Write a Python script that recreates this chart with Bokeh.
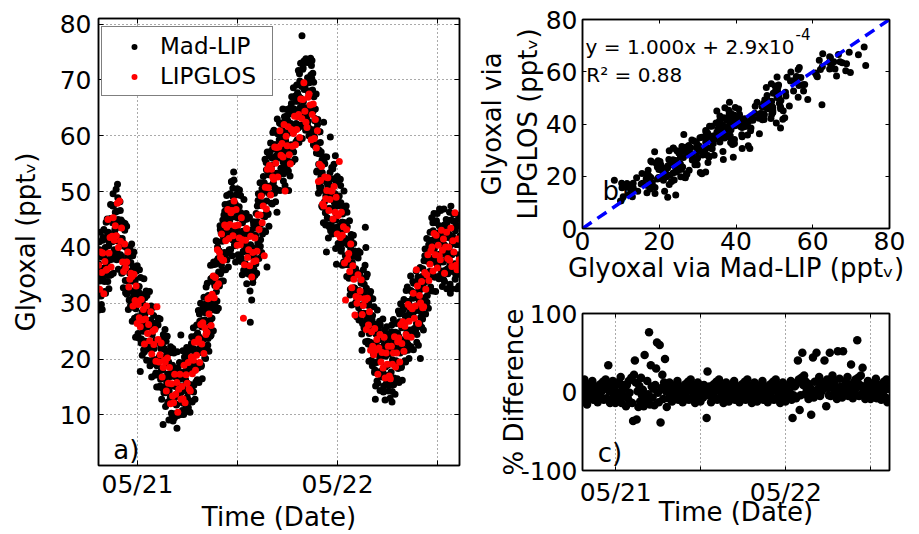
import numpy as np
from bokeh.plotting import figure
from bokeh.models import Range1d, FixedTicker, Legend, LegendItem, Label, LinearAxis
from bokeh.layouts import row, column
from bokeh.embed import file_html
from bokeh.resources import INLINE

FONT = "DejaVu Sans"

# ---------------- axes / ticks ----------------
time_ticks = [0, 24]                 # hours after 05/21 00:00 (labelled)
time_tick_labels = ["05/21", "05/22"]
time_minor_ticks = [12, 36]          # unlabelled ticks (noon)
glyoxal_ticks = [10, 20, 30, 40, 50, 60, 70, 80]
scatter_ticks = [0, 20, 40, 60, 80]
diff_ticks = [-100, 0, 100]
diff_tick_labels = ["-100", "0", "100"]

# ---------------- data ----------------
# Mad-LIP glyoxal (pptv), 2-min resolution starting 05/20 19:20,
# stored as two interleaved halves (even samples: 19:20, 19:24, ... ; odd samples: 19:22, 19:26, ...)
madlip_start_h = -4.0 - 40.0 / 60.0
madlip_step_min = 2.0
madlip_even_ppt = [
    37.1, 31.8, 39.6, 34.8, 36.3, 29.8, 39.3, 34.5, 41.8, 34.1, 38.3, 32.1, 40.0, 41.5, 36.6,
    37.0, 42.6, 35.0, 40.3, 42.4, 37.8, 35.0, 45.2, 42.0, 37.9, 44.4, 49.6, 47.5, 39.6, 42.9,
    46.3, 44.1, 41.2, 39.2, 51.3, 45.0, 41.7, 44.6, 38.1, 46.6, 40.4, 38.2, 43.8, 35.5, 40.9,
    36.1, 40.2, 43.1, 34.1, 37.1, 40.0, 31.6, 38.6, 34.1, 39.5, 30.6, 35.4, 32.2, 37.3, 30.3,
    35.1, 29.3, 36.6, 31.3, 32.3, 26.9, 34.3, 29.0, 35.8, 27.6, 31.3, 24.6, 32.0, 33.0, 27.6,
    17.8, 31.6, 23.6, 28.4, 30.0, 25.0, 21.7, 31.4, 27.8, 23.2, 29.2, 25.8, 31.4, 23.0, 25.9,
    28.6, 25.8, 22.2, 19.7, 28.6, 25.7, 22.5, 25.5, 19.2, 27.8, 21.9, 19.9, 25.6, 17.5, 23.1,
    18.8, 23.0, 26.1, 17.2, 20.4, 23.4, 15.2, 22.3, 18.0, 23.5, 14.8, 8.3, 16.6, 21.9, 15.0,
    19.8, 14.0, 21.4, 16.2, 17.3, 12.0, 19.5, 14.3, 21.2, 13.1, 16.9, 10.3, 17.8, 18.9, 8.9,
    13.0, 18.2, 10.2, 15.1, 16.8, 11.8, 7.6, 18.4, 14.8, 10.3, 16.4, 13.2, 19.1, 24.3, 14.1,
    17.6, 15.2, 12.1, 10.1, 19.5, 17.1, 14.4, 17.9, 12.0, 21.1, 15.7, 14.1, 20.3, 12.6, 18.6,
    14.4, 19.2, 22.8, 14.5, 18.2, 21.8, 14.1, 21.8, 18.0, 24.1, 15.9, 21.4, 18.9, 24.7, 18.4,
    24.1, 18.9, 26.8, 22.1, 23.7, 18.9, 26.9, 22.2, 29.6, 22.0, 26.3, 20.2, 28.3, 29.9, 25.2,
    25.5, 31.2, 23.7, 29.1, 31.3, 26.8, 24.1, 34.4, 31.3, 27.3, 33.9, 31.1, 37.4, 29.7, 33.2,
    37.0, 34.9, 32.1, 30.4, 40.1, 38.0, 35.6, 39.4, 33.8, 43.2, 38.1, 36.8, 43.3, 35.9, 42.1,
    38.1, 42.9, 46.5, 38.2, 41.9, 45.5, 37.8, 45.5, 41.7, 47.8, 39.6, 44.9, 42.2, 47.9, 51.8,
    46.8, 41.4, 49.1, 53.5, 45.5, 40.3, 47.8, 42.6, 49.5, 41.4, 45.3, 38.7, 46.2, 47.3, 42.0,
    41.2, 46.2, 38.1, 42.8, 44.4, 39.2, 35.9, 45.5, 41.8, 37.1, 43.1, 39.5, 45.1, 36.6, 39.4,
    42.0, 39.1, 35.6, 26.6, 42.2, 39.5, 36.5, 40.0, 34.5, 44.0, 39.0, 37.8, 44.4, 37.1, 43.5,
    39.7, 44.6, 48.4, 40.2, 44.1, 47.8, 40.2, 48.0, 44.3, 50.5, 42.4, 48.0, 45.6, 51.6, 45.5,
    51.1, 46.0, 53.9, 36.5, 50.9, 46.1, 54.2, 49.6, 57.1, 49.6, 54.0, 47.9, 56.0, 57.6, 52.9,
    52.9, 58.4, 50.7, 55.9, 57.9, 53.2, 46.3, 60.4, 57.1, 52.9, 59.3, 56.2, 62.2, 54.2, 57.4,
    61.0, 58.5, 55.3, 53.2, 62.5, 60.0, 57.2, 60.6, 54.6, 63.6, 58.2, 56.5, 50.2, 54.9, 60.9,
    57.4, 62.2, 65.8, 57.5, 61.2, 64.8, 57.1, 64.8, 61.0, 67.1, 58.9, 64.4, 61.9, 67.7, 61.4,
    67.1, 61.9, 69.8, 65.1, 66.7, 61.9, 77.9, 65.1, 72.2, 64.3, 68.3, 61.7, 69.2, 73.8, 64.8,
    65.0, 70.4, 62.6, 67.7, 69.5, 64.5, 61.2, 70.9, 72.6, 73.5, 68.2, 64.4, 69.6, 60.7, 62.7,
    64.8, 61.2, 56.9, 53.7, 62.0, 58.6, 54.9, 57.4, 50.6, 58.8, 52.6, 50.2, 55.6, 47.2, 52.5,
    62.4, 52.0, 55.0, 46.2, 49.3, 39.2, 44.1, 51.3, 46.9, 52.5, 43.7, 48.7, 59.8, 50.9, 44.0,
    50.7, 44.9, 52.3, 47.0, 48.1, 42.7, 56.4, 44.9, 37.0, 43.6, 47.4, 40.7, 48.2, 49.2, 43.9,
    52.2, 48.0, 39.8, 44.5, 46.0, 40.8, 37.4, 47.0, 43.2, 38.5, 44.4, 40.8, 46.3, 37.8, 40.5,
    41.3, 38.5, 34.9, 32.5, 41.4, 38.6, 35.4, 38.5, 32.1, 40.7, 34.8, 32.7, 38.4, 30.2, 35.7,
    30.9, 35.1, 38.1, 29.2, 32.3, 35.3, 27.0, 34.1, 29.7, 21.6, 26.4, 31.3, 28.2, 33.4, 26.5,
    43.6, 40.0, 32.7, 27.3, 28.2, 22.7, 30.0, 24.6, 31.3, 23.0, 26.6, 19.8, 27.0, 27.8, 22.2,
    21.3, 26.3, 18.1, 12.8, 24.5, 19.4, 16.1, 25.8, 22.2, 17.7, 23.8, 20.4, 26.1, 17.8, 20.7,
    23.6, 20.9, 17.5, 15.2, 24.3, 21.6, 18.6, 21.8, 15.7, 24.5, 18.9, 17.1, 23.1, 15.3, 21.1,
    16.9, 21.5, 24.9, 12.3, 19.9, 23.3, 15.4, 22.9, 18.9, 24.8, 16.4, 21.7, 19.1, 24.7, 18.3,
    24.1, 18.9, 26.7, 22.0, 23.5, 18.7, 26.6, 21.9, 29.2, 21.6, 25.8, 19.7, 27.7, 29.3, 24.5,
    24.8, 30.3, 22.6, 27.8, 29.8, 25.1, 22.2, 32.3, 28.9, 24.6, 30.9, 27.7, 33.6, 25.5, 28.6,
    31.9, 29.5, 26.4, 24.4, 33.8, 31.4, 28.7, 32.2, 26.3, 20.1, 30.0, 28.5, 34.8, 27.2, 33.3,
    29.9, 34.8, 38.5, 30.3, 34.1, 37.8, 30.2, 38.0, 34.3, 40.5, 32.4, 38.0, 35.5, 41.3, 35.0,
    40.5, 35.2, 43.0, 38.2, 39.7, 34.7, 42.5, 37.6, 44.8, 37.0, 41.1, 34.8, 42.6, 43.9, 38.8,
    38.5, 43.8, 35.8, 40.7, 42.4, 37.4, 34.2, 44.0, 40.4, 35.9, 42.0, 38.6, 44.4, 36.2, 39.2,
    42.5, 40.0, 36.8, 31.8, 47.4, 41.5, 38.7, 42.0, 35.9, 44.7, 39.0, 37.1, 43.0, 35.0, 40.7,
    36.1, 40.6, 43.9, 35.3, 38.7, 42.0,
]
madlip_odd_ppt = [
    28.8, 41.0, 34.0, 42.7, 31.3, 38.3, 28.9, 41.3, 35.7, 43.2, 33.9, 38.9, 31.8, 44.5, 35.3,
    45.1, 33.9, 42.7, 32.6, 40.9, 37.9, 47.7, 35.1, 45.2, 41.0, 47.4, 35.4, 44.9, 38.7, 43.3,
    39.5, 50.4, 37.8, 46.5, 48.9, 36.1, 43.6, 38.3, 48.2, 38.7, 44.9, 35.4, 41.6, 44.5, 32.8,
    43.8, 36.4, 44.3, 31.9, 36.9, 43.8, 32.8, 38.1, 28.9, 38.6, 33.9, 40.1, 29.6, 35.8, 40.6,
    26.8, 38.5, 31.0, 39.2, 27.3, 33.8, 23.9, 35.8, 29.7, 36.7, 26.9, 31.4, 23.8, 36.0, 26.3,
    34.6, 22.9, 31.3, 20.7, 28.5, 25.1, 34.4, 21.3, 31.0, 26.3, 32.2, 19.8, 28.8, 22.1, 26.3,
    21.8, 32.1, 18.8, 27.0, 29.5, 16.8, 24.4, 19.2, 29.3, 19.9, 26.4, 17.1, 23.4, 26.5, 15.0,
    26.5, 19.2, 27.3, 15.0, 20.2, 27.2, 16.4, 21.8, 12.8, 22.6, 18.1, 24.4, 14.0, 20.4, 25.3,
    11.5, 23.2, 15.8, 24.1, 12.3, 18.9, 9.1, 21.1, 15.1, 22.2, 12.5, 17.1, 9.6, 21.9, 12.3,
    21.1, 9.5, 17.9, 9.8, 15.3, 11.9, 21.3, 9.9, 18.0, 13.4, 19.4, 10.4, 16.5, 10.1, 14.5,
    10.8, 21.5, 10.2, 17.4, 20.4, 10.6, 16.3, 11.6, 22.1, 13.2, 20.2, 11.3, 18.1, 21.6, 10.5,
    22.1, 15.4, 24.0, 12.3, 18.0, 25.6, 15.3, 21.3, 12.8, 23.2, 19.2, 26.1, 16.3, 23.2, 28.7,
    15.8, 28.1, 21.2, 30.0, 18.7, 25.8, 16.5, 29.0, 23.5, 31.1, 21.9, 27.0, 20.1, 32.9, 23.9,
    33.6, 22.5, 31.4, 21.4, 29.8, 26.9, 36.8, 24.3, 34.5, 30.4, 36.9, 25.1, 34.8, 28.8, 33.6,
    30.2, 41.2, 28.7, 37.7, 41.0, 29.1, 37.5, 33.1, 43.9, 35.3, 42.6, 34.0, 41.1, 44.9, 34.0,
    45.8, 39.1, 47.7, 36.0, 41.7, 49.3, 39.0, 45.0, 36.5, 46.9, 42.9, 49.6, 39.6, 46.4, 51.7,
    38.5, 50.6, 43.5, 52.1, 40.5, 47.2, 37.4, 49.4, 43.4, 50.5, 40.9, 45.5, 38.0, 50.3, 40.7,
    49.3, 37.5, 45.8, 35.1, 42.9, 39.3, 48.6, 35.4, 45.0, 40.2, 46.1, 33.5, 42.5, 35.7, 39.8,
    35.2, 45.4, 32.2, 40.5, 43.1, 30.6, 38.4, 33.7, 44.6, 36.1, 43.5, 35.0, 42.2, 46.1, 35.4,
    47.4, 40.8, 49.6, 38.0, 43.9, 51.6, 41.4, 47.5, 39.1, 49.6, 45.7, 52.7, 43.0, 50.1, 55.8,
    42.8, 55.2, 48.3, 57.1, 45.9, 53.0, 43.8, 56.4, 51.0, 58.7, 49.6, 54.7, 47.8, 60.6, 51.6,
    61.0, 49.7, 58.4, 48.2, 56.4, 53.3, 63.0, 50.3, 60.3, 56.0, 62.3, 50.2, 59.6, 53.3, 57.8,
    54.2, 64.8, 51.9, 60.5, 63.4, 51.1, 59.1, 54.3, 64.7, 55.7, 62.7, 53.7, 60.5, 63.9, 52.8,
    65.1, 58.4, 67.0, 55.3, 61.0, 68.6, 58.3, 64.3, 55.8, 66.2, 62.2, 69.1, 59.3, 66.2, 71.7,
    58.8, 71.1, 64.2, 73.0, 61.7, 68.8, 59.5, 71.9, 66.1, 73.4, 63.9, 68.5, 61.0, 73.2, 63.5,
    73.1, 61.7, 70.3, 60.0, 68.0, 64.6, 73.9, 60.8, 70.3, 65.5, 71.2, 58.4, 67.0, 59.8, 63.1,
    58.0, 67.5, 53.5, 61.0, 62.9, 49.7, 56.8, 51.1, 60.7, 50.9, 57.1, 47.4, 53.4, 56.2, 44.4,
    55.4, 48.2, 56.2, 44.0, 49.1, 56.2, 45.3, 50.8, 41.7, 51.6, 47.0, 53.4, 43.0, 49.4, 54.3,
    42.4, 54.1, 46.7, 54.9, 43.1, 49.6, 39.8, 51.7, 45.7, 52.7, 43.0, 47.5, 40.0, 52.2, 42.6,
    51.1, 39.3, 47.5, 36.8, 44.5, 40.9, 50.1, 36.9, 46.4, 41.6, 47.4, 34.8, 43.7, 36.9, 40.9,
    34.5, 44.8, 31.5, 39.8, 42.3, 29.7, 37.3, 32.2, 42.2, 32.8, 39.3, 29.9, 36.2, 39.2, 27.6,
    38.6, 31.3, 39.3, 27.0, 32.1, 39.1, 28.2, 33.6, 24.5, 34.3, 29.7, 36.0, 25.6, 31.9, 36.8,
    23.1, 34.7, 27.1, 35.2, 23.2, 29.6, 19.6, 31.4, 25.2, 32.1, 22.2, 26.6, 18.8, 30.8, 20.9,
    29.4, 17.6, 25.8, 15.2, 23.0, 19.5, 28.8, 15.7, 25.4, 20.8, 26.8, 14.4, 23.5, 16.9, 21.1,
    16.8, 27.2, 14.1, 22.5, 25.2, 12.7, 20.5, 15.5, 25.8, 16.6, 23.4, 14.3, 20.9, 24.3, 13.0,
    24.6, 17.7, 26.1, 14.2, 19.7, 27.1, 16.6, 22.4, 13.7, 23.9, 19.7, 26.4, 16.5, 23.2, 28.6,
    15.8, 28.1, 21.1, 29.9, 18.5, 25.6, 16.2, 28.7, 23.1, 30.7, 21.4, 26.5, 19.5, 32.3, 23.2,
    32.9, 21.6, 30.3, 20.1, 28.3, 25.2, 34.9, 22.2, 32.1, 27.7, 33.9, 21.7, 31.0, 24.6, 29.0,
    25.1, 35.8, 23.0, 31.7, 34.7, 22.5, 30.6, 25.9, 36.4, 27.5, 34.5, 25.7, 32.6, 36.2, 25.2,
    37.6, 31.0, 39.7, 28.1, 33.9, 41.6, 31.4, 37.5, 29.1, 39.6, 35.7, 42.7, 32.9, 39.8, 45.3,
    32.2, 44.4, 37.4, 46.1, 34.7, 41.6, 32.1, 44.4, 38.7, 46.1, 36.7, 41.6, 34.4, 46.9, 37.5,
    46.6, 35.1, 43.5, 33.0, 40.9, 37.5, 46.9, 33.9, 43.6, 39.0, 45.0, 32.6, 41.8, 35.3, 39.6,
    35.7, 46.3, 33.4, 42.0, 44.9, 32.6, 40.6, 35.7, 46.0, 36.8, 43.5, 34.3, 40.8, 44.0, 32.6,
    43.8, 36.8, 45.1, 33.1, 38.5, 45.8,
]

# LIPGLOS glyoxal (pptv), one value every 7.5 min starting 05/20 19:20
lipglos_start_h = -4.0 - 40.0 / 60.0
lipglos_step_min = 7.5
lipglos_ppt = [
    36.8, 32.5, 39.2, 35.5, 39.0, 31.7, 37.5, 35.9,
    36.1, 45.0, 39.0, 41.8, 36.5, 42.0, 45.3, 41.3,
    43.9, 42.1, 47.9, 40.0, 48.3, 41.1, 43.5, 37.4,
    35.7, 40.6, 36.3, 37.4, 39.2, 32.9, 34.3, 35.4,
    34.8, 29.5, 35.2, 30.5, 33.1, 26.4, 29.8, 27.4,
    25.8, 30.7, 27.0, 28.9, 22.7, 27.2, 29.5, 24.6,
    26.2, 23.3, 28.5, 20.9, 25.0, 22.6, 25.3, 19.6,
    29.4, 23.5, 19.5, 20.8, 22.9, 16.8, 18.5, 19.8,
    19.5, 14.3, 20.2, 15.7, 18.5, 12.0, 15.6, 13.4,
    12.2, 17.3, 13.7, 15.8, 10.5, 14.6, 17.3, 12.8,
    15.1, 12.9, 18.9, 12.2, 17.2, 15.7, 19.4, 14.6,
    14.3, 20.4, 17.4, 19.8, 23.0, 18.0, 20.7, 23.0,
    23.6, 19.4, 26.2, 22.7, 26.5, 21.0, 25.6, 24.4,
    24.8, 30.8, 28.1, 31.1, 26.0, 31.6, 34.9, 31.0,
    34.6, 33.0, 39.6, 33.5, 39.1, 38.2, 42.4, 37.7,
    37.7, 44.0, 41.2, 43.6, 46.8, 41.6, 44.1, 46.2,
    46.6, 42.1, 48.3, 43.9, 46.8, 40.4, 44.0, 41.7,
    40.5, 45.3, 41.4, 27.3, 36.9, 41.3, 43.4, 38.2,
    39.6, 36.7, 42.0, 34.7, 39.1, 37.5, 41.7, 37.6,
    39.3, 45.8, 43.2, 45.8, 49.2, 44.4, 47.4, 38.5,
    50.8, 46.9, 54.0, 50.7, 54.7, 49.4, 54.0, 52.6,
    52.2, 58.0, 55.1, 57.9, 52.6, 58.0, 60.9, 56.5,
    58.6, 56.2, 62.0, 50.1, 59.9, 58.2, 61.6, 56.6,
    55.0, 61.1, 58.1, 60.4, 63.5, 58.4, 61.1, 63.4,
    63.8, 59.7, 66.6, 63.1, 66.5, 69.5, 64.4, 62.4,
    61.5, 66.9, 67.5, 65.5, 59.3, 63.8, 65.7, 59.5,
    62.9, 57.8, 60.9, 51.8, 54.9, 52.0, 54.5, 47.8,
    47.4, 52.6, 48.7, 50.2, 52.5, 46.6, 48.6, 50.1,
    50.1, 45.1, 50.9, 46.3, 49.0, 42.4, 45.7, 55.4,
    41.8, 46.3, 42.2, 43.7, 37.2, 30.6, 43.2, 37.9,
    38.9, 35.7, 40.6, 32.8, 36.7, 34.3, 27.9, 31.2,
    30.0, 35.1, 31.0, 32.2, 34.2, 28.0, 29.6, 30.8,
    30.6, 25.3, 30.9, 26.1, 28.5, 21.6, 24.9, 22.3,
    20.8, 25.5, 21.6, 23.5, 17.3, 22.0, 24.4, 19.5,
    21.2, 18.4, 23.9, 16.6, 21.1, 19.1, 22.3, 17.0,
    16.5, 22.3, 19.1, 21.1, 24.0, 18.6, 21.1, 23.1,
    23.8, 19.5, 26.2, 22.8, 26.7, 21.4, 25.9, 24.4,
    24.1, 29.8, 26.8, 29.4, 23.9, 29.0, 31.8, 27.3,
    29.5, 36.0, 33.1, 26.4, 31.4, 30.1, 33.9, 29.2,
    29.4, 35.5, 32.5, 35.1, 38.7, 34.1, 37.0, 39.4,
    40.1, 35.8, 42.5, 38.7, 42.2, 36.3, 40.4, 38.5,
    37.8, 43.1, 39.5, 41.5, 35.4, 40.1, 42.7, 38.0,
    40.1, 37.7, 43.5, 36.6, 41.2, 39.2, 46.2, 36.8,
    36.0, 41.5, 37.8,
]

# % difference between the instruments at the LIPGLOS times (panel c)
pct_difference = [
    7, -10, 16, -4, 1, -16, 10, -7,
    -7, 9, -1, 14, -10, 4, -4, 7,
    3, -13, 7, -5, 10, 0, -9, 13,
    -10, 4, 16, -8, 8, 34, 1, -14,
    7, -9, 14, -3, 1, -14, 9, -7,
    -9, 13, -1, 19, -14, 5, -5, 9,
    4, -18, 9, -8, 14, -1, -13, 18,
    -14, -37, 22, 40, 12, -35, 1, -19,
    8, -12, 18, -4, 3, -18, 47, -8,
    -10, 14, -3, 76, -16, 34, 7, -7,
    4, -17, 9, 30, 63, -1, -13, 60,
    -39, 5, 22, -9, 12, 42, 1, -19,
    5, -8, 12, -3, 1, -12, 8, -5,
    -7, 9, -1, 14, -10, 4, -4, 7,
    3, -13, 7, -5, 10, 0, -9, 13,
    -10, 4, 16, -8, 8, -3, 1, -14,
    5, -8, 12, -3, 1, -12, 8, -5,
    -7, 9, -1, 4, -33, 26, -4, 7,
    3, -13, 7, -5, 10, 0, -9, 13,
    -10, 4, 16, -8, 8, -3, 1, -14,
    5, -8, 12, -3, 1, -12, 8, -5,
    -7, 9, -1, 14, -10, 4, -4, 7,
    3, -13, 7, -5, 10, 0, -9, 13,
    -10, 4, 16, -8, 8, -3, 1, -14,
    5, -8, 12, -3, 1, -12, 8, -5,
    -7, 9, -1, 14, -10, 4, -4, 7,
    3, -13, 7, -5, 10, 0, -9, 13,
    -10, 4, 16, -8, 8, -3, 1, -14,
    5, -8, 12, -3, 1, -12, 8, -5,
    -7, 9, -1, 14, -10, -33, -4, 7,
    8, -8, 12, 40, 16, -23, -4, 18,
    50, 9, 21, -3, 13, 3, 7, -9,
    10, -3, -29, 3, 44, -7, 13, 0,
    50, 14, 4, 19, -5, 9, 1, 12,
    8, 40, 12, -18, 16, 5, -4, 50,
    -5, 9, 21, -3, 13, 3, 7, -9,
    52, -3, 17, 3, 7, -7, 52, 0,
    -1, 14, 4, 19, -5, 9, 1, 35,
    8, -8, 12, 0, 16, 5, 66, 18,
    -5, 9, 21, -3, 31, 3, 7, -9,
    8, -5, 14, 0, 4, -9, 10, -3,
    -4, 12, 1, 17, -8, 7, -1, 9,
    5, -10, 9, -3, 13, 3, -7, 16,
    -13, 7, 5,
]

fit_slope = 1.000
fit_intercept = 2.9e-4
fit_r2 = 0.88

# ---------------- derived ----------------
even = np.array(madlip_even_ppt, dtype=float)
odd = np.array(madlip_odd_ppt, dtype=float)
madlip = np.empty(len(even) + len(odd))
madlip[0::2] = even
madlip[1::2] = odd
t_mad = madlip_start_h + np.arange(len(madlip)) * madlip_step_min / 60.0

lipglos = np.array(lipglos_ppt, dtype=float)
t_lip = lipglos_start_h + np.arange(len(lipglos)) * lipglos_step_min / 60.0
pdiff = np.array(pct_difference, dtype=float)

# Mad-LIP sample closest in time to each LIPGLOS measurement (panel b)
idx = np.clip(np.rint((t_lip - madlip_start_h) / (madlip_step_min / 60.0)).astype(int),
              0, len(madlip) - 1)
madlip_at_lip = madlip[idx]

T_RANGE = (-4.68, 38.63)


def style(p):
    p.background_fill_color = "white"
    p.border_fill_color = "white"
    p.outline_line_color = "black"
    p.outline_line_width = 1.5


def style_axis(ax, ticks, overrides=None, minor=None, tick_len=5):
    ax.ticker = FixedTicker(ticks=ticks, minor_ticks=minor or [])
    ax.major_tick_in = tick_len
    ax.major_tick_out = 0
    ax.minor_tick_in = tick_len if minor else 0
    ax.minor_tick_out = 0
    ax.major_tick_line_color = "black"
    ax.minor_tick_line_color = "black"
    ax.major_tick_line_width = 1
    ax.minor_tick_line_width = 1
    ax.axis_line_color = "black"
    ax.axis_line_width = 1.5
    ax.major_label_text_font = FONT
    ax.major_label_text_color = "black"
    ax.major_label_text_font_size = "25px"
    ax.axis_label_text_font = FONT
    ax.axis_label_text_font_size = "26px"
    ax.axis_label_text_font_style = "normal"
    ax.axis_label_text_color = "black"
    if overrides:
        ax.major_label_overrides = overrides


def box_axes(p, xticks, yticks, tick_len=5):
    # tick marks (pointing inward) on the top and right edges of the box, no labels drawn
    for side, ticks in (("above", xticks), ("right", yticks)):
        ax = LinearAxis(ticker=FixedTicker(ticks=ticks))
        ax.major_tick_in = tick_len
        ax.major_tick_out = 0
        ax.minor_tick_in = 0
        ax.minor_tick_out = 0
        ax.major_tick_line_color = "black"
        ax.major_tick_line_width = 1
        ax.axis_line_color = "black"
        ax.axis_line_width = 1.5
        ax.major_label_text_alpha = 0
        ax.major_label_text_font_size = "1px"
        ax.major_label_standoff = 0
        p.add_layout(ax, side)


time_overrides = {t: lab for t, lab in zip(time_ticks, time_tick_labels)}
all_time_ticks = sorted(time_ticks + time_minor_ticks)

# ---------------- panel a ----------------
pa = figure(width=470, height=534, x_range=Range1d(*T_RANGE), y_range=Range1d(0.95, 81.0),
            output_backend="svg", toolbar_location=None,
            min_border_left=98, min_border_right=11, min_border_top=18, min_border_bottom=63)
style(pa)
style_axis(pa.xaxis[0], time_ticks, time_overrides, minor=time_minor_ticks)
style_axis(pa.yaxis[0], glyoxal_ticks)
pa.xaxis[0].major_label_standoff = 4
pa.xaxis[0].axis_label_standoff = 0
pa.yaxis[0].major_label_standoff = 7
pa.yaxis[0].axis_label_standoff = 16
pa.xaxis[0].axis_label = "Time (Date)"
pa.yaxis[0].axis_label = "Glyoxal (ppt\u1d65)"
box_axes(pa, all_time_ticks, glyoxal_ticks)
pa.xgrid.ticker = FixedTicker(ticks=time_ticks, minor_ticks=time_minor_ticks)
pa.ygrid.ticker = FixedTicker(ticks=glyoxal_ticks)
for g in (pa.xgrid, pa.ygrid):
    g.grid_line_color = "#555555"
    g.grid_line_dash = "1 3"
    g.grid_line_width = 1
pa.xgrid.minor_grid_line_color = "#555555"
pa.xgrid.minor_grid_line_dash = "1 3"

r_mad = pa.scatter(t_mad, madlip, size=7, marker="circle", fill_color="black", line_color=None)
r_lip = pa.scatter(t_lip, lipglos, size=7, marker="circle", fill_color="#ff0000", line_color=None)

leg = Legend(items=[LegendItem(label="Mad-LIP", renderers=[r_mad]),
                    LegendItem(label="LIPGLOS", renderers=[r_lip])],
             location=(3, 369), margin=0, padding=6, spacing=4,
             glyph_width=52, glyph_height=15, label_standoff=0, label_width=106, label_height=26,
             label_text_font=FONT, label_text_font_size="23px", label_text_color="black",
             border_line_color="black", border_line_width=1.2, background_fill_color="white",
             background_fill_alpha=1.0)
pa.add_layout(leg)
pa.add_layout(Label(x=-2.9, y=3.8, text="a)", text_font=FONT, text_font_size="26px",
                    text_baseline="alphabetic", text_color="black"))

# ---------------- panel b ----------------
pb = figure(width=449, height=290, x_range=Range1d(0, 80), y_range=Range1d(0, 80),
            output_backend="svg", toolbar_location=None,
            min_border_left=112, min_border_right=30, min_border_top=19, min_border_bottom=62)
style(pb)
style_axis(pb.xaxis[0], scatter_ticks, tick_len=4)
style_axis(pb.yaxis[0], scatter_ticks, tick_len=4)
pb.xaxis[0].major_label_standoff = 3
pb.xaxis[0].axis_label_standoff = 0
pb.yaxis[0].major_label_standoff = 5
pb.yaxis[0].axis_label_standoff = 0
pb.xaxis[0].axis_label = "Glyoxal via Mad-LIP (ppt\u1d65)"
pb.yaxis[0].axis_label = "Glyoxal via\nLIPGLOS (ppt\u1d65)"
box_axes(pb, scatter_ticks, scatter_ticks, tick_len=4)
pb.grid.visible = False
pb.scatter(madlip_at_lip, lipglos, size=7, marker="circle", fill_color="black", line_color=None)
fit_x = np.array([pb.x_range.start, pb.x_range.end])
pb.line(fit_x, fit_slope * fit_x + fit_intercept, line_color="#0000ff", line_width=3.5,
        line_dash="11 7")
pb.add_layout(Label(x=0.8, y=69.3, text="y = %.3fx + 2.9x10" % fit_slope, text_font=FONT,
                    text_font_size="20px", text_baseline="alphabetic", text_color="black"))
pb.add_layout(Label(x=55.5, y=74.6, text="-4", text_font=FONT,
                    text_font_size="15px", text_baseline="alphabetic", text_color="black"))
pb.add_layout(Label(x=1.0, y=58.6, text="R\u00b2 = %.2f" % fit_r2, text_font=FONT,
                    text_font_size="20px", text_baseline="alphabetic", text_color="black"))
pb.add_layout(Label(x=5.2, y=14.5, text="b)", text_font=FONT, text_font_size="26px",
                    text_baseline="alphabetic", text_color="black"))

# ---------------- panel c ----------------
pc = figure(width=449, height=244, x_range=Range1d(*T_RANGE), y_range=Range1d(-100, 100),
            output_backend="svg", toolbar_location=None,
            min_border_left=111, min_border_right=29, min_border_top=23, min_border_bottom=64)
style(pc)
style_axis(pc.xaxis[0], time_ticks, time_overrides, minor=time_minor_ticks, tick_len=4)
style_axis(pc.yaxis[0], diff_ticks, {t: lab for t, lab in zip(diff_ticks, diff_tick_labels)},
           tick_len=4)
pc.xaxis[0].major_label_standoff = 7
pc.xaxis[0].axis_label_standoff = -13
pc.yaxis[0].major_label_standoff = 5
pc.yaxis[0].axis_label_standoff = -11
pc.xaxis[0].axis_label = "Time (Date)"
pc.yaxis[0].axis_label = "% Difference"
box_axes(pc, all_time_ticks, diff_ticks, tick_len=4)
pc.xgrid.ticker = FixedTicker(ticks=time_ticks, minor_ticks=time_minor_ticks)
pc.xgrid.grid_line_color = "#555555"
pc.xgrid.grid_line_dash = "1 3"
pc.xgrid.minor_grid_line_color = "#555555"
pc.xgrid.minor_grid_line_dash = "1 3"
pc.ygrid.visible = False
pc.scatter(t_lip, pdiff, size=8.5, marker="circle", fill_color="black", line_color=None)
pc.add_layout(Label(x=-2.53, y=-78.3, text="c)", text_font=FONT, text_font_size="26px",
                    text_baseline="alphabetic", text_color="black"))

layout = row(pa, column(pb, pc))
open("out.html", "w").write(file_html(layout, INLINE))
